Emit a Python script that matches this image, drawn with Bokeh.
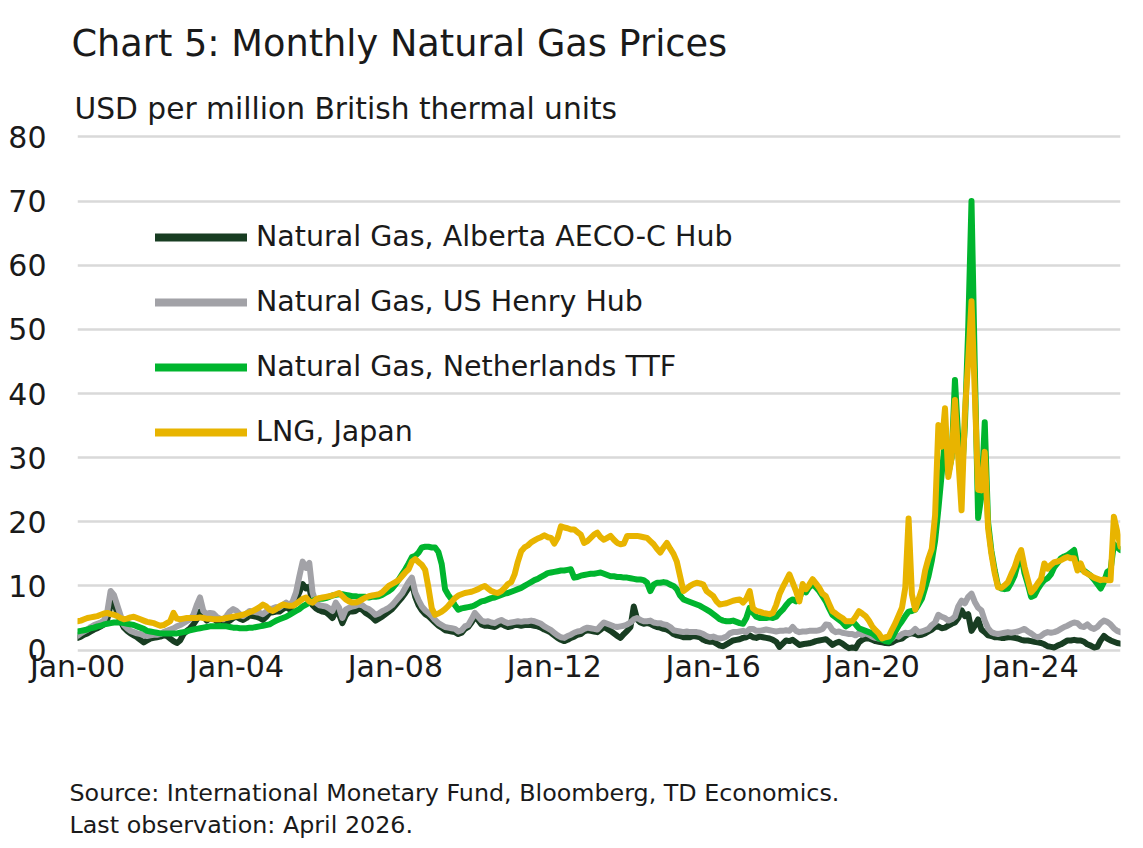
from bokeh.plotting import figure
from bokeh.models import Range1d, FixedTicker, Legend, LegendItem, Title
from bokeh.embed import file_html
from bokeh.resources import INLINE

# Monthly prices, USD per MMBtu, Jan 2000 - Apr 2026 (one row per year)
aeco = [
    1.9, 2.1, 2.4, 2.6, 2.9, 3.2, 3.4, 3.7, 4.0, 4.8, 7.0, 7.5,
    5.8, 4.5, 3.5, 3.0, 2.6, 2.3, 2.0, 1.6, 1.2, 1.5, 1.8, 1.9,
    2.0, 2.1, 2.3, 2.2, 1.8, 1.4, 1.1, 1.5, 2.5, 3.0, 3.4, 4.0,
    4.8, 6.0, 5.3, 4.6, 5.0, 5.0, 4.5, 4.2, 4.1, 4.3, 4.6, 5.0,
    5.2, 4.9, 4.7, 5.0, 5.4, 5.3, 5.2, 5.0, 4.7, 5.2, 5.8, 5.9,
    6.0, 6.0, 6.4, 6.7, 6.4, 6.9, 7.8, 9.0, 10.3, 9.6, 9.9, 7.0,
    6.5, 6.2, 6.0, 5.9, 5.5, 5.0, 6.0, 5.6, 4.2, 5.4, 6.0, 6.0,
    6.1, 6.5, 6.3, 5.8, 5.5, 5.1, 4.6, 4.9, 5.2, 5.6, 6.0, 6.4,
    7.0, 7.6, 8.2, 8.9, 9.7, 10.5, 8.3, 7.0, 6.2, 5.6, 5.3, 4.8,
    4.3, 3.8, 3.5, 3.1, 3.0, 2.9, 2.8, 2.5, 2.7, 3.3, 3.6, 4.3,
    5.2, 4.7, 4.0, 3.8, 3.8, 3.7, 3.6, 3.9, 4.1, 3.8, 3.6, 3.7,
    3.9, 3.9, 3.8, 3.9, 3.9, 3.9, 3.8, 3.7, 3.5, 3.2, 3.0, 2.7,
    2.3, 1.9, 1.6, 1.4, 1.6, 1.9, 2.1, 2.4, 2.5, 2.9, 3.1, 3.0,
    2.9, 2.8, 3.2, 3.6, 3.3, 3.0, 2.6, 2.2, 1.9, 2.5, 3.0, 3.6,
    6.8, 4.8, 4.3, 4.1, 4.2, 4.1, 3.8, 3.6, 3.5, 3.3, 3.2, 2.9,
    2.5, 2.3, 2.2, 2.0, 2.0, 2.0, 2.2, 2.1, 2.0, 1.6, 1.4, 1.3,
    1.3, 1.0, 0.7, 0.6, 0.9, 1.2, 1.5, 1.6, 1.7, 1.9, 2.0, 2.3,
    2.0, 1.9, 2.1, 2.0, 1.9, 1.8, 1.6, 1.3, 0.5, 1.0, 1.5, 1.4,
    1.6, 1.2, 0.8, 0.9, 1.0, 1.05, 1.2, 1.4, 1.5, 1.6, 1.7, 1.3,
    0.8, 1.1, 1.3, 1.0, 0.6, 0.3, 0.4, 0.3, 1.2, 1.6, 1.8, 1.8,
    1.6, 1.4, 1.3, 1.2, 1.1, 1.05, 1.2, 1.5, 1.7, 1.8, 2.2, 2.5,
    2.6, 2.5, 2.3, 2.4, 2.6, 2.9, 3.2, 3.6, 3.7, 3.4, 3.5, 3.8,
    4.1, 4.3, 5.0, 6.2, 5.3, 5.6, 3.0, 3.8, 4.8, 3.2, 2.8, 2.3,
    2.2, 2.0, 2.0, 1.9, 1.9, 2.0, 2.0, 1.9, 1.8, 1.6, 1.5, 1.5,
    1.4, 1.3, 1.2, 1.1, 0.9, 0.6, 0.5, 0.4, 0.7, 0.9, 1.2, 1.5,
    1.5, 1.6, 1.5, 1.5, 1.3, 0.9, 0.7, 0.4, 0.5, 1.5, 2.2, 1.8,
    1.5, 1.3, 1.1, 1.0,
]

henry_hub = [
    2.2, 2.6, 2.9, 3.2, 3.6, 3.9, 4.1, 4.3, 4.6, 6.0, 9.2, 8.6,
    7.0, 5.4, 3.9, 3.4, 3.0, 2.8, 2.6, 2.5, 2.3, 2.2, 2.3, 2.4,
    2.4, 2.5, 2.8, 3.0, 3.2, 3.4, 3.7, 3.9, 4.2, 4.5, 4.8, 5.5,
    7.0, 8.2, 6.1, 5.6, 5.8, 5.7, 5.2, 4.9, 4.8, 5.3, 6.0, 6.4,
    6.1, 5.6, 5.3, 5.7, 6.1, 6.0, 5.9, 5.8, 5.6, 6.0, 6.4, 6.5,
    6.7, 6.6, 7.0, 7.4, 7.0, 7.6, 9.0, 11.5, 13.8, 12.8, 13.6, 9.0,
    7.4, 7.0, 6.9, 6.8, 6.5, 6.1, 7.4, 6.6, 5.0, 6.3, 6.6, 6.8,
    6.9, 7.1, 7.0, 6.6, 6.4, 6.0, 5.5, 5.7, 6.05, 6.3, 6.6, 7.0,
    7.6, 8.2, 8.8, 9.7, 10.6, 11.3, 9.0, 7.8, 6.8, 6.2, 5.8, 5.3,
    4.7, 4.2, 3.9, 3.6, 3.5, 3.4, 3.3, 2.9, 3.1, 3.7, 3.9, 4.8,
    5.8, 5.2, 4.6, 4.4, 4.5, 4.3, 4.2, 4.5, 4.7, 4.4, 4.2, 4.3,
    4.4, 4.5, 4.4, 4.5, 4.5, 4.6, 4.5, 4.3, 4.1, 3.7, 3.4, 3.1,
    2.7, 2.3, 2.0, 1.9, 2.2, 2.4, 2.7, 2.9, 3.0, 3.3, 3.5, 3.4,
    3.3, 3.2, 3.8, 4.3, 4.1, 3.9, 3.7, 3.6, 3.7, 3.8, 4.0, 4.3,
    4.8, 5.0, 4.7, 4.5, 4.5, 4.6, 4.3, 4.2, 4.2, 4.0, 3.9, 3.6,
    3.1, 3.0, 2.9, 2.8, 2.9, 2.8, 2.8, 2.8, 2.7, 2.5, 2.2, 2.0,
    2.1, 1.9, 1.8, 1.9, 2.1, 2.6, 2.8, 2.8, 2.9, 3.0, 2.8, 3.3,
    3.3, 3.0, 3.0, 3.1, 3.2, 3.1, 3.0, 2.9, 3.0, 3.0, 3.1, 3.0,
    3.6, 3.0, 2.8, 2.9, 2.9, 3.0, 3.0, 3.0, 3.1, 3.3, 4.0, 3.9,
    3.1, 2.8, 2.9, 2.7, 2.6, 2.5, 2.5, 2.3, 2.6, 2.4, 2.6, 2.4,
    2.1, 1.9, 1.8, 1.8, 1.8, 1.7, 1.8, 2.3, 2.1, 2.5, 2.7, 2.6,
    2.8, 3.3, 2.8, 2.9, 3.1, 3.3, 3.9, 4.3, 5.5, 5.2, 5.0, 4.6,
    4.8, 5.2, 6.8, 7.7, 7.3, 8.3, 8.8, 7.5, 6.6, 6.2, 4.6, 3.4,
    2.8, 2.6, 2.5, 2.6, 2.7, 2.8, 2.7, 2.8, 2.9, 3.1, 3.3, 2.9,
    2.6, 2.2, 2.0, 2.2, 2.6, 2.8, 2.7, 2.8, 3.0, 3.3, 3.6, 3.8,
    4.1, 4.3, 4.2, 3.7, 3.6, 4.0, 3.5, 3.3, 3.6, 4.2, 4.6, 4.4,
    4.0, 3.4, 3.0, 2.8,
]

ttf = [
    2.9, 3.0, 3.1, 3.2, 3.4, 3.5, 3.7, 3.8, 4.0, 4.1, 4.2, 4.3,
    4.3, 4.3, 4.2, 4.1, 4.0, 3.9, 3.7, 3.5, 3.3, 3.0, 2.9, 2.8,
    2.7, 2.6, 2.6, 2.6, 2.6, 2.6, 2.6, 2.7, 2.8, 2.9, 3.1, 3.2,
    3.3, 3.4, 3.5, 3.6, 3.7, 3.7, 3.7, 3.75, 3.7, 3.7, 3.6, 3.5,
    3.5, 3.4, 3.4, 3.4, 3.5, 3.5, 3.6, 3.7, 3.8, 3.9, 4.0, 4.3,
    4.6, 4.8, 5.0, 5.2, 5.5, 5.8, 6.1, 6.4, 6.8, 7.1, 7.4, 7.7,
    7.9, 8.0, 8.0, 8.1, 8.3, 8.5, 8.6, 8.7, 8.7, 8.6, 8.5, 8.4,
    8.4, 8.3, 8.3, 8.3, 8.2, 8.3, 8.3, 8.4, 8.6, 8.9, 9.2, 9.6,
    10.2, 11.0, 11.8, 12.6, 13.5, 14.5, 14.7, 15.2, 16.0, 16.1, 16.1, 16.0,
    16.0, 15.3, 13.4, 9.5, 8.6, 7.9, 7.0, 6.3, 6.5, 6.6, 6.7, 6.8,
    7.0, 7.3, 7.6, 7.7, 7.9, 8.1, 8.2, 8.4, 8.6, 8.8, 8.9, 9.1,
    9.3, 9.5, 9.7, 10.0, 10.3, 10.6, 10.9, 11.1, 11.4, 11.7, 12.0, 12.1,
    12.2, 12.3, 12.4, 12.4, 12.5, 12.6, 11.3, 11.4, 11.6, 11.7, 11.8, 11.9,
    11.9, 12.0, 12.1, 11.9, 11.7, 11.5, 11.5, 11.4, 11.4, 11.3, 11.3, 11.2,
    11.1, 11.0, 11.0, 10.9, 10.5, 9.2, 10.2, 10.5, 10.5, 10.6, 10.5, 10.2,
    10.0, 9.5, 8.5, 7.9, 7.7, 7.5, 7.3, 7.1, 6.9, 6.6, 6.3, 6.0,
    5.6, 5.2, 4.8, 4.6, 4.5, 4.5, 4.6, 4.4, 4.2, 4.1, 5.0, 6.6,
    5.8, 5.2, 5.0, 5.0, 5.0, 5.1, 5.0, 5.2, 5.8, 6.3, 7.0, 7.6,
    7.9, 7.6, 8.0, 9.5, 9.0, 9.8, 10.3, 9.8, 9.2, 8.4, 7.6, 6.5,
    5.5, 5.1, 4.7, 4.3, 3.7, 4.0, 4.5, 4.0, 3.4, 3.2, 3.0, 2.8,
    2.6, 2.2, 1.8, 1.6, 1.4, 1.3, 1.9, 2.9, 3.8, 4.5, 5.3, 6.0,
    6.1, 6.3, 7.1, 8.0, 9.7, 11.5, 13.9, 17.0, 22.0, 27.5, 32.7, 27.5,
    30.0, 42.1, 33.0, 26.5, 35.0, 50.0, 70.0, 44.0, 20.6, 24.0, 35.5, 20.0,
    15.5, 12.5, 10.0, 9.6, 9.5, 9.6, 10.5, 11.6, 13.5, 14.8, 12.0, 10.3,
    8.3, 8.5, 9.5, 10.3, 10.9, 11.2, 11.8, 12.95, 13.6, 14.3, 14.6, 14.8,
    15.2, 15.6, 12.95, 12.6, 12.4, 12.0, 11.6, 11.0, 10.3, 9.6, 10.6, 12.2,
    12.5, 16.5, 16.0, 15.6,
]

lng_japan = [
    4.5, 4.6, 4.8, 5.0, 5.1, 5.2, 5.3, 5.5, 5.7, 5.8, 5.6, 5.5,
    5.3, 5.0, 4.8, 4.9, 5.1, 5.2, 5.0, 4.8, 4.6, 4.4, 4.3, 4.2,
    4.0, 3.8, 3.9, 4.2, 4.5, 5.8, 4.9, 4.8, 4.9, 5.0, 5.0, 5.0,
    5.0, 5.1, 5.0, 4.9, 4.9, 4.8, 4.8, 4.8, 4.9, 5.0, 5.1, 5.2,
    5.3, 5.4, 5.5, 5.7, 5.9, 6.1, 6.4, 6.7, 7.1, 6.8, 6.3, 6.1,
    6.4, 6.8, 7.1, 7.0, 6.9, 6.9, 7.2, 7.6, 8.0, 8.2, 7.6, 7.4,
    7.9, 8.1, 8.2, 8.3, 8.4, 8.5, 8.7, 8.9, 8.4, 7.9, 7.6, 7.4,
    7.4, 7.6, 7.9, 8.2, 8.4, 8.5, 8.6, 8.7, 9.0, 9.5, 10.0, 10.3,
    10.6, 10.9, 11.5, 12.1, 12.6, 13.8, 14.2, 13.7, 13.3, 12.5, 9.7, 6.5,
    5.5, 5.7, 6.0, 6.4, 6.9, 7.5, 8.1, 8.5, 8.7, 8.9, 9.0, 9.1,
    9.3, 9.5, 9.8, 10.0, 9.6, 9.2, 9.0, 8.9, 9.2, 9.7, 10.3, 10.6,
    11.8, 13.8, 15.4, 16.0, 16.3, 16.8, 17.1, 17.4, 17.6, 17.9, 17.6, 17.5,
    16.6, 17.5, 19.3, 19.1, 19.0, 18.8, 18.8, 18.4, 18.0, 16.7, 17.0, 17.5,
    18.0, 18.3, 17.6, 17.2, 17.5, 17.8, 17.2, 16.7, 16.5, 16.6, 17.8, 17.8,
    17.8, 17.8, 17.7, 17.6, 17.5, 17.0, 16.5, 15.8, 15.2, 16.0, 16.7, 15.8,
    15.0, 13.8, 11.5, 9.2, 9.6, 10.0, 10.3, 10.5, 10.4, 10.2, 9.2, 8.8,
    8.4, 7.6, 7.1, 7.2, 7.3, 7.5, 7.7, 7.8, 7.9, 7.4, 8.0, 9.2,
    6.5, 6.1, 6.0, 5.8, 5.7, 5.6, 5.8, 7.0, 8.7, 9.8, 10.8, 11.8,
    10.5, 9.2, 7.6, 10.3, 9.5, 10.2, 11.05, 10.4, 9.7, 8.8, 8.4, 7.2,
    6.05, 5.7, 5.3, 5.0, 4.5, 4.5, 4.5, 5.2, 6.05, 5.7, 5.3, 4.6,
    3.7, 3.1, 2.6, 1.8, 2.0, 2.1, 3.2, 4.2, 5.4, 6.6, 9.7, 20.5,
    8.7, 6.3, 7.9, 9.5, 12.4, 14.3, 15.8, 21.0, 35.1, 31.7, 37.7, 27.0,
    30.0, 39.0, 30.0, 21.8, 36.9, 45.0, 54.4, 40.0, 25.0, 24.9, 30.9, 19.0,
    15.0, 12.0, 9.8, 9.7, 10.1, 10.6, 11.8, 12.9, 14.5, 15.6, 13.0, 11.0,
    9.0, 9.6, 10.4, 11.1, 13.5, 12.7, 13.3, 13.7, 13.8, 14.0, 14.3, 14.5,
    14.3, 14.3, 12.4, 13.5, 12.2, 11.9, 11.6, 11.3, 11.1, 10.9, 11.0, 10.9,
    10.9, 20.8, 18.5, 16.1,
]

series_names = [
    "Natural Gas, Alberta AECO-C Hub",
    "Natural Gas, US Henry Hub",
    "Natural Gas, Netherlands TTF",
    "LNG, Japan",
]
series_colors = ["#183d22", "#a2a2a7", "#00b52e", "#e8b400"]

tick_months = [0, 48, 96, 144, 192, 240, 288]
tick_labels = ["Jan-00", "Jan-04", "Jan-08", "Jan-12", "Jan-16", "Jan-20", "Jan-24"]
y_ticks = [0, 10, 20, 30, 40, 50, 60, 70, 80]

months = list(range(len(aeco)))
FONT = "DejaVu Sans"
TEXT = "#1a1a1a"

p = figure(
    width=1143, height=848,
    x_range=Range1d(0, len(months) - 1), y_range=Range1d(-1, 81),
    output_backend="svg", toolbar_location=None,
    min_border_left=77, min_border_right=23,
    min_border_top=130, min_border_bottom=192,
)
p.outline_line_color = None
p.background_fill_color = "white"
p.border_fill_color = "white"

p.xgrid.visible = False
p.ygrid.grid_line_color = "#d9d9d9"
p.ygrid.grid_line_width = 2.5
p.ygrid.ticker = FixedTicker(ticks=y_ticks)

p.yaxis.ticker = FixedTicker(ticks=y_ticks)
p.yaxis.axis_line_color = None
p.yaxis.major_tick_line_color = None
p.yaxis.minor_tick_line_color = None
p.yaxis.major_tick_in = 0
p.yaxis.major_tick_out = 0
p.yaxis.major_label_standoff = 31
p.yaxis.major_label_text_font = FONT
p.yaxis.major_label_text_font_size = "30px"
p.yaxis.major_label_text_color = TEXT

p.xaxis.ticker = FixedTicker(ticks=tick_months)
p.xaxis.major_label_overrides = dict(zip(tick_months, tick_labels))
p.xaxis.axis_line_color = None
p.xaxis.major_tick_line_color = None
p.xaxis.minor_tick_line_color = None
p.xaxis.major_tick_in = 0
p.xaxis.major_tick_out = 0
p.xaxis.major_label_standoff = -8
p.xaxis.major_label_text_font = FONT
p.xaxis.major_label_text_font_size = "30px"
p.xaxis.major_label_text_color = TEXT

legend_items = []
for name, values, color in zip(series_names, [aeco, henry_hub, ttf, lng_japan], series_colors):
    p.line(months, values, line_color=color, line_width=6,
           line_join="round", line_cap="round")
    # legend key: same colour, a little heavier, holding no visible points
    key = p.line([float("nan")], [float("nan")], line_color=color,
                 line_width=8, line_cap="round")
    legend_items.append(LegendItem(label=name, renderers=[key]))

legend = Legend(
    items=legend_items,
    location=(78, 208),
    orientation="vertical",
    glyph_width=92, glyph_height=30, label_height=30,
    label_standoff=9, spacing=32, padding=0, margin=0,
    border_line_color=None, background_fill_alpha=0,
    label_text_font=FONT, label_text_font_size="28.5px", label_text_color=TEXT,
)
p.add_layout(legend, "center")


def side_text(text, size, offset, standoff, line_height=1.2):
    return Title(text=text, align="left", offset=offset, standoff=standoff,
                 text_font=FONT, text_font_size=size, text_font_style="normal",
                 text_line_height=line_height, text_color=TEXT)


# header, nearest the plot first
p.add_layout(side_text("USD per million British thermal units", "29.7px", -3, 9), "above")
p.add_layout(side_text("Chart 5: Monthly Natural Gas Prices", "36.7px", -6, 39), "above")

# footer: a blank spacer band below the axis, then the source note
p.add_layout(side_text(" ", "10px", 0, 78), "below")
p.add_layout(side_text("Source: International Monetary Fund, Bloomberg, TD Economics.\n"
                       "Last observation: April 2026.", "23.8px", -8, 0, 1.16), "below")

open("out.html", "w").write(file_html(p, INLINE))
